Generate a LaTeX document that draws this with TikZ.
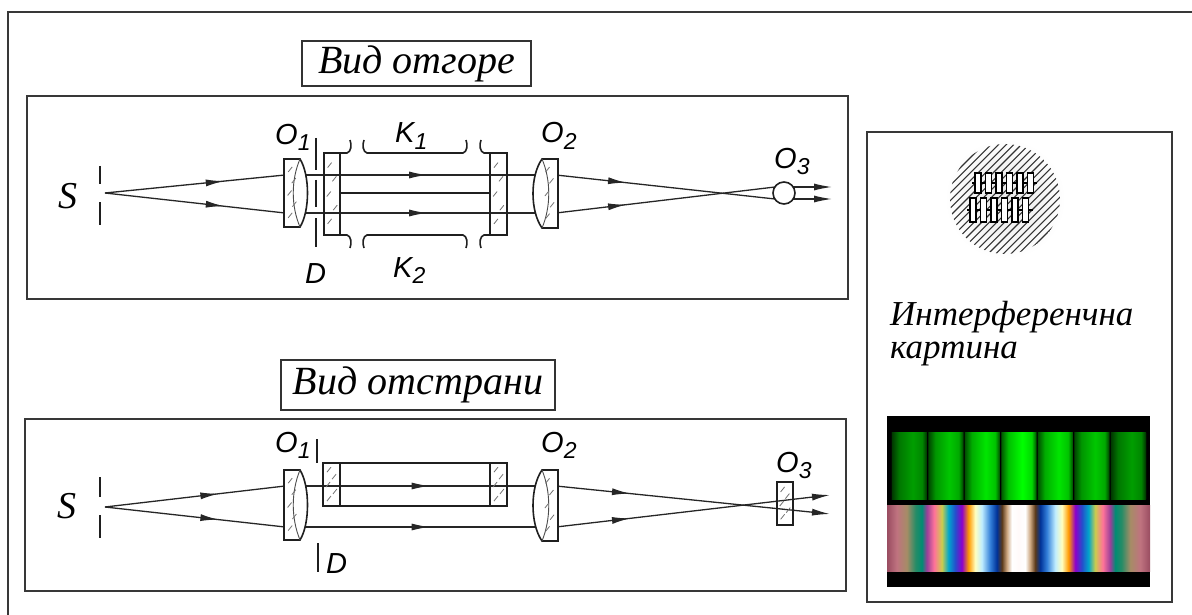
\documentclass[tikz,border=0pt]{standalone}
\usepackage{fontspec}
\setmainfont{Liberation Serif}
\newfontfamily\lblfont{Liberation Sans}
\usetikzlibrary{arrows.meta,decorations.markings}

% white-light fringes (path box is mapped onto 25bp..75bp)
\pgfdeclarehorizontalshading{whitelight}{100bp}{%
rgb(0bp)=(0.60,0.30,0.38); rgb(25bp)=(0.60,0.30,0.38);
rgb(26.86bp)=(0.75,0.45,0.50); rgb(28.76bp)=(0.65,0.55,0.40);
rgb(30.42bp)=(0.15,0.55,0.40); rgb(31.62bp)=(0.0,0.55,0.45);
rgb(32.57bp)=(0.60,0.25,0.60); rgb(33.97bp)=(1.0,0.45,0.60);
rgb(35.42bp)=(0.80,0.80,0.30); rgb(36.69bp)=(0.0,0.65,0.80);
rgb(37.97bp)=(0.15,0.30,0.80); rgb(39.22bp)=(0.55,0.0,0.80);
rgb(40.49bp)=(1.0,0.60,0.0); rgb(41.77bp)=(1.0,1.0,0.75);
rgb(43.02bp)=(0.75,0.93,1.0); rgb(44.62bp)=(0.20,0.50,0.85);
rgb(45.87bp)=(0.0,0.20,0.60); rgb(46.83bp)=(0.35,0.22,0.10);
rgb(47.78bp)=(0.80,0.65,0.50); rgb(48.73bp)=(1,1,1);
rgb(50bp)=(1,0.98,0.98);
rgb(51.27bp)=(1,1,1); rgb(52.22bp)=(0.80,0.65,0.50);
rgb(53.17bp)=(0.35,0.22,0.10); rgb(54.13bp)=(0.0,0.20,0.60);
rgb(55.38bp)=(0.20,0.50,0.85); rgb(56.98bp)=(0.75,0.93,1.0);
rgb(58.23bp)=(1.0,1.0,0.75); rgb(59.51bp)=(1.0,0.60,0.0);
rgb(60.78bp)=(0.55,0.0,0.80); rgb(62.03bp)=(0.15,0.30,0.80);
rgb(63.31bp)=(0.0,0.65,0.80); rgb(64.58bp)=(0.80,0.80,0.30);
rgb(66.03bp)=(1.0,0.45,0.60); rgb(67.43bp)=(0.60,0.25,0.60);
rgb(68.38bp)=(0.0,0.55,0.45); rgb(69.58bp)=(0.15,0.55,0.40);
rgb(71.24bp)=(0.65,0.55,0.40); rgb(73.14bp)=(0.75,0.45,0.50);
rgb(75bp)=(0.60,0.30,0.38); rgb(100bp)=(0.60,0.30,0.38)}

% one monochromatic fringe
\pgfdeclarehorizontalshading[fringecol]{greenfringe}{100bp}{%
color(0bp)=(black); color(25bp)=(black);
color(26.5bp)=(fringecol!35!black); color(36bp)=(fringecol!75!black);
color(55bp)=(fringecol); color(68bp)=(fringecol!85!black);
color(73.5bp)=(fringecol!40!black); color(75bp)=(black); color(100bp)=(black)}

\newcommand\optlabel[2]{#1\raisebox{-6pt}{\fontsize{23}{23}\selectfont #2}}
\newcommand\glassmarks[4]{%
  \foreach \fx/\fy in {0.35/0.12,0.65/0.30,0.30/0.50,0.70/0.68,0.35/0.86}{%
    \draw[markstroke] ({#1+\fx*(#3-#1)-2},{#2+\fy*(#4-#2)+2.5}) -- ++(4,-5);}}

\tikzset{
  frame/.style={draw=black!78, line width=1.8pt},
  optic/.style={draw=black!88, line width=1.6pt},
  glass/.style={draw=black!88, line width=1.6pt, fill=white},
  inner/.style={draw=black!70, line width=0.9pt},
  markstroke/.style={draw=black!55, line width=0.8pt},
  ray/.style={draw=black!85, line width=1.3pt},
  midarrow/.style={postaction={decorate}, decoration={markings,
    mark=at position #1 with {\arrow{Latex[length=18pt,width=7pt]}}}},
  tiparrow/.style={-{Latex[length=18pt,width=7pt]}},
  titlebox/.style={draw=black!80, line width=1.3pt, inner sep=0pt,
    font=\fontsize{40}{40}\selectfont\itshape},
  lbl/.style={inner sep=0pt, anchor=base west,
    font=\lblfont\itshape\fontsize{29}{29}\selectfont},
  srclbl/.style={inner sep=0pt, font=\fontsize{38}{38}\selectfont\itshape},
  caption/.style={inner sep=0pt, anchor=base west,
    font=\fontsize{35}{35}\selectfont\itshape},
  hatchline/.style={draw=black!80, line width=1.1pt},
  fringebox/.style={draw=black, line width=1.2pt, fill=white},
}

\begin{document}
\begin{tikzpicture}[x=1pt,y=-1pt]
\useasboundingbox (0,0) rectangle (1192,615);

% page frame
\draw[frame] (1194,12) -- (8,12) -- (8,617);

% ---------------- titles ----------------
\node[titlebox, minimum width=229pt, minimum height=45pt] (title1) at (416.5,63.5) {Вид отгоре};
\node[titlebox, minimum width=274pt, minimum height=50pt] (title2) at (418,385) {Вид отстрани};

% ================= top view =================
\draw[frame] (27,96) rectangle (848,299);

\coordinate (srcA) at (105,193);
\coordinate (o1inA) at (285,175);  \coordinate (o1inB) at (285,213);
\coordinate (o1outA) at (300,175); \coordinate (o1outB) at (300,213);
\coordinate (o2inA) at (540,175);  \coordinate (o2inB) at (540,213);
\coordinate (o2outA) at (556,175); \coordinate (o2outB) at (556,213);
\coordinate (o3inA) at (775,199);  \coordinate (o3inB) at (775,187);
\coordinate (o3tipA) at (832,199); \coordinate (o3tipB) at (832,187);

% rays
\draw[ray, midarrow=0.66] (srcA) -- (o1inA);
\draw[ray, midarrow=0.66] (srcA) -- (o1inB);
\draw[ray, midarrow=0.53] (o1outA) -- (o2inA);
\draw[ray, midarrow=0.53] (o1outB) -- (o2inB);
\draw[ray, midarrow=0.32] (o2outA) -- (o3inA);
\draw[ray, midarrow=0.32] (o2outB) -- (o3inB);
\draw[ray, tiparrow] (o3inA) -- (o3tipA);
\draw[ray, tiparrow] (o3inB) -- (o3tipB);

% slit
\draw[optic] (100,166) -- (100,184) (100,202) -- (100,225);

% objective O1
\draw[glass] (284,159) -- (300,159) .. controls (310,175) and (310,211) .. (300,227) -- (284,227) -- cycle;
\draw[inner] (300,159) .. controls (291,180) and (291,206) .. (300,227);
\glassmarks{286}{162}{298}{224}

% diaphragm D
\draw[optic] (316,138) -- (316,170) (316,180) -- (316,207) (316,218) -- (316,247);

% cells K1, K2
\draw[optic] (324,153) rectangle (340,235);
\draw[optic] (490,153) rectangle (507,235);
\glassmarks{324}{156}{340}{232}
\glassmarks{490}{156}{507}{232}
\draw[optic] (340,193) -- (490,193);
\draw[optic] (340,153) -- (347,153) .. controls (351,152) and (352,145) .. (350,140);
\draw[optic] (340,235) -- (347,235) .. controls (351,236) and (352,243) .. (350,248);
\draw[optic] (364,140) .. controls (362,145) and (363,152) .. (367,153) -- (463,153) .. controls (467,152) and (468,145) .. (466,140);
\draw[optic] (364,248) .. controls (362,243) and (363,236) .. (367,235) -- (463,235) .. controls (467,236) and (468,243) .. (466,248);
\draw[optic] (481,140) .. controls (479,145) and (480,152) .. (484,153) -- (490,153);
\draw[optic] (481,248) .. controls (479,243) and (480,236) .. (484,235) -- (490,235);

% objective O2
\draw[glass] (542,159) -- (558,159) -- (558,228) -- (542,228) .. controls (530,211) and (530,176) .. cycle;
\draw[inner] (542,159) .. controls (551,180) and (551,207) .. (542,228);
\glassmarks{543}{162}{556}{225}

% eyepiece O3
\draw[glass] (784,193) circle (11);

% labels
\node[srclbl] (sA) at (68,196) {S};
\node[lbl] (lo1A) at (275,145) {\optlabel{O}{1}};
\node[lbl] (lo2A) at (541,143) {\optlabel{O}{2}};
\node[lbl] (lo3A) at (774,168) {\optlabel{O}{3}};
\node[lbl] (lk1) at (395,143) {\optlabel{K}{1}};
\node[lbl] (lk2) at (393,277) {\optlabel{K}{2}};
\node[lbl] (ldA) at (305,283) {D};

% ================= side view =================
\draw[frame] (25,419) rectangle (846,591);

\coordinate (srcB) at (105,507);
\coordinate (p1inA) at (285,486);  \coordinate (p1inB) at (285,527);
\coordinate (p1outA) at (300,486); \coordinate (p1outB) at (300,527);
\coordinate (p2inA) at (540,486);  \coordinate (p2inB) at (540,527);
\coordinate (p2outA) at (556,486); \coordinate (p2outB) at (556,527);
\coordinate (p3tipA) at (830,514); \coordinate (p3tipB) at (830,495);

\draw[ray, midarrow=0.63] (srcB) -- (p1inA);
\draw[ray, midarrow=0.63] (srcB) -- (p1inB);
\draw[ray, midarrow=0.54] (p1outA) -- (p2inA);
\draw[ray, midarrow=0.54] (p1outB) -- (p2inB);
\draw[ray, midarrow=0.27, tiparrow] (p2outA) -- (p3tipA);
\draw[ray, midarrow=0.27, tiparrow] (p2outB) -- (p3tipB);

\draw[optic] (100,477) -- (100,497) (100,515) -- (100,538);

\draw[glass] (284,470) -- (300,470) .. controls (310,486) and (310,524) .. (300,540) -- (284,540) -- cycle;
\draw[inner] (300,470) .. controls (291,492) and (291,518) .. (300,540);
\glassmarks{286}{473}{298}{537}

\draw[optic] (317,439) -- (317,463) (318,543) -- (318,572);

\draw[optic] (323,463) rectangle (340,506);
\draw[optic] (490,463) rectangle (507,506);
\glassmarks{323}{465}{340}{504}
\glassmarks{490}{465}{507}{504}
\draw[optic] (340,463) -- (490,463) (340,506) -- (490,506);

\draw[glass] (542,470) -- (558,470) -- (558,541) -- (542,541) .. controls (530,524) and (530,487) .. cycle;
\draw[inner] (542,470) .. controls (551,492) and (551,519) .. (542,541);
\glassmarks{543}{473}{556}{538}

\draw[optic] (777,482) rectangle (793,525);
\glassmarks{777}{485}{793}{522}

\node[srclbl] (sB) at (67,506) {S};
\node[lbl] (lo1B) at (275,452) {\optlabel{O}{1}};
\node[lbl] (lo2B) at (541,452) {\optlabel{O}{2}};
\node[lbl] (lo3B) at (776,472) {\optlabel{O}{3}};
\node[lbl] (ldB) at (326,573) {D};

% ================= interference pattern =================
\draw[frame] (867,132) rectangle (1172,602);

% hatched field of view with fringes
\shade[inner color=gray!20, outer color=white] (1005,199) circle (60);
\begin{scope}
  \clip (1005,199) circle (55);
  \foreach \k in {-16,...,16}
    \draw[hatchline] ({1005+7.6*\k-60},259) -- ++(120,-120);
\end{scope}
\draw[line width=1.2pt] (972,183) -- (1037,183);
\foreach \k in {0,...,5}
  \draw[fringebox] ({975+10.5*\k},173) rectangle ({981+10.5*\k},193);
\draw[line width=1.2pt] (967,210) -- (1033,210);
\foreach \k in {0,...,5}
  \draw[fringebox] ({970+10.5*\k},198) rectangle ({976+10.5*\k},222);

\node[caption] (cap1) at (890,325) {Интерференчна};
\node[caption] (cap2) at (890,358) {картина};

% fringe photographs
\fill[black] (887,416) rectangle (1150,587);
\foreach \i/\g in {-3/0.62,-2/0.78,-1/0.9,0/1,1/0.9,2/0.78,3/0.62}{
  \definecolor{fringecol}{rgb}{0,\g,0}
  \shade[shading=greenfringe] ({1018.5+36.5*\i-18.25},432) rectangle ({1018.5+36.5*\i+18.25},499);
}
\shade[shading=whitelight] (887,505) rectangle (1150,571);
\end{tikzpicture}
\end{document}
